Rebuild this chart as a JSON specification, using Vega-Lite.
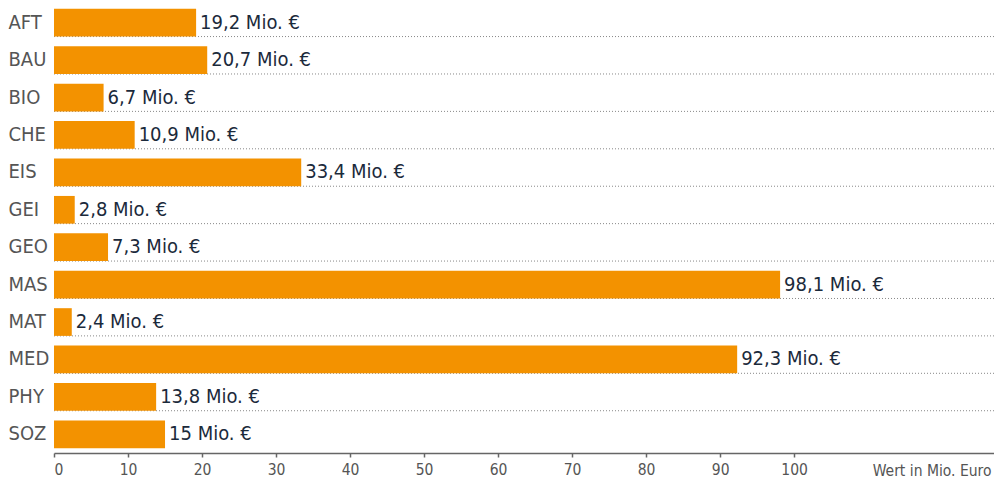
{
  "$schema": "https://vega.github.io/schema/vega-lite/v6.json",
  "autosize": {"type": "none"},
  "padding": {"left": 54, "top": 4, "right": 0, "bottom": 26},
  "width": 940,
  "height": 449,
  "background": "white",
  "config": {"view": {"stroke": null}, "font": "DejaVu Sans Condensed"},
  "data": {"values": [
    {"fach": "AFT", "wert": 19.2, "label": "19,2 Mio. €"},
    {"fach": "BAU", "wert": 20.7, "label": "20,7 Mio. €"},
    {"fach": "BIO", "wert": 6.7, "label": "6,7 Mio. €"},
    {"fach": "CHE", "wert": 10.9, "label": "10,9 Mio. €"},
    {"fach": "EIS", "wert": 33.4, "label": "33,4 Mio. €"},
    {"fach": "GEI", "wert": 2.8, "label": "2,8 Mio. €"},
    {"fach": "GEO", "wert": 7.3, "label": "7,3 Mio. €"},
    {"fach": "MAS", "wert": 98.1, "label": "98,1 Mio. €"},
    {"fach": "MAT", "wert": 2.4, "label": "2,4 Mio. €"},
    {"fach": "MED", "wert": 92.3, "label": "92,3 Mio. €"},
    {"fach": "PHY", "wert": 13.8, "label": "13,8 Mio. €"},
    {"fach": "SOZ", "wert": 15, "label": "15 Mio. €"}
  ]},
  "encoding": {
    "y": {"field": "fach", "type": "nominal", "sort": null,
      "scale": {"paddingInner": 0.26, "paddingOuter": 0.13},
      "axis": {"title": null, "ticks": false, "domain": false, "labelAlign": "left", "labelPadding": 46,
        "labelFontSize": 20, "labelColor": "#555555", "labelFont": "DejaVu Sans Condensed"}}
  },
  "layer": [
    {
      "transform": [{"filter": "datum.fach !== 'SOZ'"}],
      "mark": {"type": "rule", "stroke": "#888888", "strokeDash": [1, 2], "strokeWidth": 1},
      "encoding": {"y": {"field": "fach", "type": "nominal", "sort": null, "bandPosition": 1}}
    },
    {
      "mark": {"type": "bar", "color": "#F39200"},
      "encoding": {
        "x": {"field": "wert", "type": "quantitative",
          "scale": {"domain": [0, 127], "nice": false},
          "axis": {"values": [0,10,20,30,40,50,60,70,80,90,100], "grid": false,
            "domainColor": "#666666", "domainWidth": 1.5, "tickColor": "#666666", "tickWidth": 1.5, "tickSize": 4,
            "labelPadding": 5, "labelFontSize": 15.5, "labelColor": "#555555", "labelFont": "DejaVu Sans Condensed",
            "title": "Wert in Mio. Euro", "titleFont": "DejaVu Sans Condensed", "titleFontSize": 15.5, "titleFontWeight": "normal",
            "titleColor": "#555555", "titleAnchor": "end", "titleAlign": "right", "titleX": 937, "titleY": 22, "titleBaseline": "alphabetic"}
        }
      }
    },
    {
      "mark": {"type": "text", "align": "left", "baseline": "middle", "dx": 4, "fontSize": 20, "color": "#1b2a3b", "font": "DejaVu Sans Condensed"},
      "encoding": {"x": {"field": "wert", "type": "quantitative"}, "text": {"field": "label"}}
    }
  ]
}
